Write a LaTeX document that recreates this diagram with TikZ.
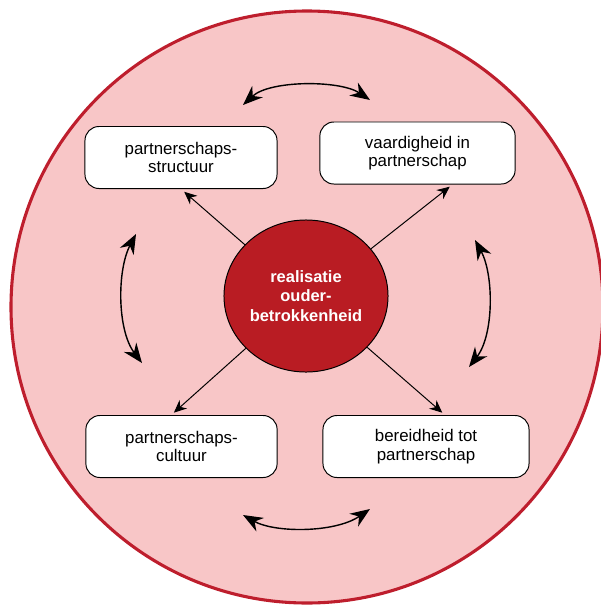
\documentclass[tikz,border=0pt]{standalone}
\usepackage{fontspec}
\setmainfont{Liberation Sans}
\usepackage{tikz}
\usetikzlibrary{shapes.geometric, arrows.meta}
\definecolor{odpink}{HTML}{F8C6C7}
\definecolor{odred}{HTML}{BE1E2D}
\definecolor{odcore}{HTML}{B91C23}

\begin{document}
\begin{tikzpicture}[
    x=0.025cm, y=-0.025cm,
    factor/.style={rectangle, rounded corners=0.35cm, draw=black, line width=0.7pt, fill=white, minimum width=#1, minimum height=1.55cm, align=center, font=\fontsize{12}{13}\selectfont},
    link/.style={-{Stealth[length=9pt, width=8pt]}, line width=0.7pt},
    mutual/.style={{Stealth[length=14pt, width=11pt]}-{Stealth[length=14pt, width=11pt]}, line width=1pt}
]
\useasboundingbox (0,0) rectangle (600,606);

% Outer ring
\draw[draw=odred, line width=2.2pt, fill=odpink] (307,307) circle [radius=296];

% Core
\node[ellipse, draw=black, line width=0.7pt, fill=odcore, text=white, inner sep=0pt, minimum width=4.1cm, minimum height=3.8cm, align=center, font=\fontsize{11.7}{14}\selectfont\bfseries] (core) at (306,296) {realisatie\\ouder-\\betrokkenheid};

% Factors
\node[factor=4.8cm] (structuur) at (181,157.5) {partnerschaps-\\structuur};
\node[factor=4.88cm] (vaardigheid) at (417.5,153) {vaardigheid in\\partnerschap};
\node[factor=4.78cm] (cultuur) at (181.5,446.5) {partnerschaps-\\cultuur};
\node[factor=5.15cm] (bereidheid) at (426,446.5) {bereidheid tot\\partnerschap};

% Core to factors
\draw[link, shorten >=3pt] (core.140) -- (structuur.south);
\draw[link, shorten >=2.5pt] (core.36) -- (vaardigheid.-42);
\draw[link, shorten >=2.5pt] (core.221) -- (cultuur.108);
\draw[link, shorten >=2.5pt] (core.-40) -- (bereidheid.59);

% Mutual influence
\coordinate (top-l) at (243,105);
\coordinate (top-r) at (370,100);
\coordinate (bot-l) at (243,515);
\coordinate (bot-r) at (370,509);
\coordinate (left-t) at (136,234);
\coordinate (left-b) at (142,363);
\coordinate (right-t) at (475,240);
\coordinate (right-b) at (469,367);
\draw[mutual] (top-l) .. controls (270,80) and (340,80) .. (top-r);
\draw[mutual] (bot-l) .. controls (275,533) and (335,533) .. (bot-r);
\draw[mutual] (left-t) .. controls (117,270) and (117,330) .. (left-b);
\draw[mutual] (right-t) .. controls (494,275) and (494,335) .. (right-b);

\end{tikzpicture}
\end{document}
